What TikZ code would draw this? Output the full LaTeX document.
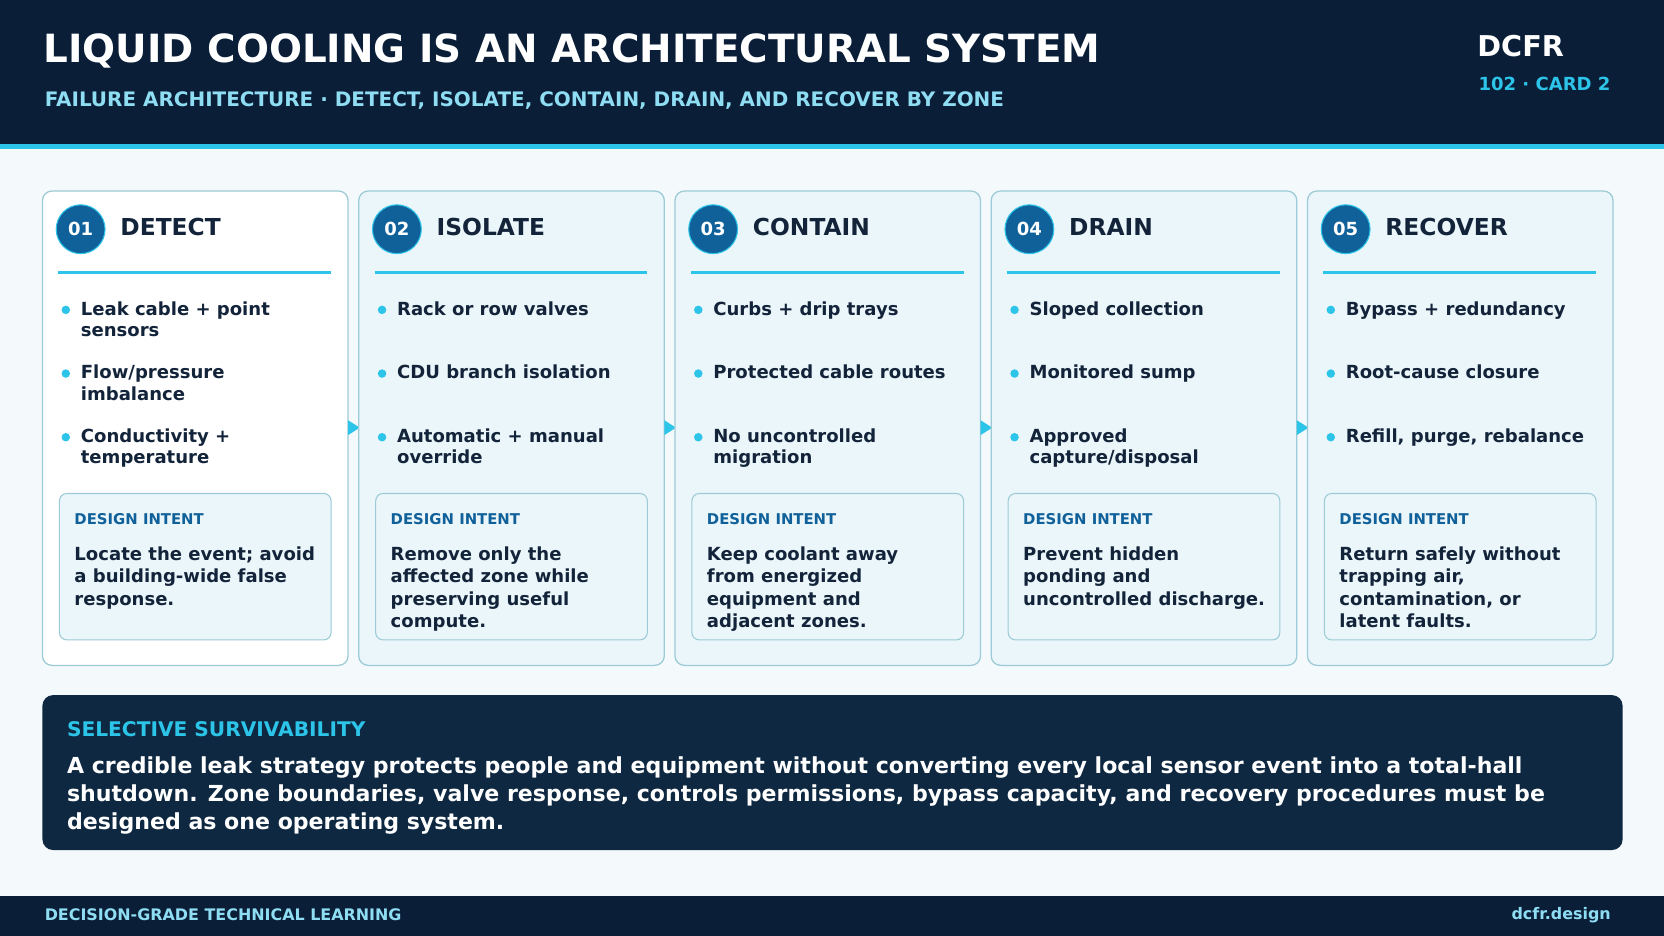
\documentclass[tikz,border=0pt]{standalone}
\usepackage{fontspec}
\setmainfont{DejaVu Sans}
\usetikzlibrary{positioning}
\definecolor{navy}{HTML}{0A1E38}
\definecolor{panel}{HTML}{0E2841}
\definecolor{cyanx}{HTML}{2CC4E8}
\definecolor{subc}{HTML}{8FDDF2}
\definecolor{deep}{HTML}{10609A}
\definecolor{ink}{HTML}{13243A}
\definecolor{edge}{HTML}{9CCAD6}
\definecolor{tint}{HTML}{EAF6FA}
\definecolor{page}{HTML}{F4F9FC}
\tikzset{
  fs/.style={font=\fontsize{#1}{#1}\selectfont\bfseries},
  card/.style={draw=edge,line width=1.2pt,rounded corners=9pt},
  intent/.style={draw=edge,line width=1pt,fill=tint,rounded corners=7pt},
  num/.style={circle,fill=deep,draw=cyanx,line width=1pt,minimum size=46pt,inner sep=0pt,text=white,fs=17},
  ctitle/.style={anchor=west,text=ink,fs=22},
  bul/.style={anchor=north west,text=ink,align=left,inner sep=0pt,
    font=\fontsize{17}{20}\selectfont\bfseries},
  dot/.style={circle,fill=cyanx,inner sep=0pt,minimum size=8pt},
  ibody/.style={anchor=north west,text=ink,align=left,inner sep=0pt,
    font=\fontsize{17}{21}\selectfont\bfseries},
}
\newcommand{\stepcard}[9]{%
  \draw[card,fill=#9] (#1,-180) rectangle ++(288,-447);
  \node[num] (n#2) at (#1+36,-216) {#2};
  \node[ctitle] (t#2) at (#1+70,-214) {#3};
  \draw[cyanx,line width=2.5pt] (#1+15,-257) -- (#1+272,-257);
  \node[dot] at (#1+22,-292) {};
  \node[bul] (a#2) at (#1+36,-284) {#4};
  \node[dot] at (#1+22,-352) {};
  \node[bul] (b#2) at (#1+36,-344) {#5};
  \node[dot] at (#1+22,-412) {};
  \node[bul] (c#2) at (#1+36,-404) {#6};
  \draw[intent] (#1+16,-465) rectangle ++(256,-138);
  \node[anchor=west,text=deep,inner sep=0pt,fs=14] (d#2) at (#1+30,-489) {DESIGN INTENT};
  \node[ibody] (i#2) at (#1+30,-515) {#7};
  \ifx#8y\fill[cyanx] (#1+288,-396) -- (#1+299,-403) -- (#1+288,-410) -- cycle;\fi
}
\begin{document}
\begin{tikzpicture}[x=1pt,y=1pt]
  \useasboundingbox (0,0) rectangle (1568,-882);
  \fill[page] (0,0) rectangle (1568,-882);
  % header
  \fill[navy] (0,0) rectangle (1568,-136);
  \fill[cyanx] (0,-136) rectangle (1568,-140);
  \node[anchor=west,text=white,inner sep=0pt,fs=36.6] (title) at (41,-48) {LIQUID COOLING IS AN ARCHITECTURAL SYSTEM};
  \node[anchor=west,text=subc,inner sep=0pt,fs=18.8] (sub) at (42,-95) {FAILURE ARCHITECTURE · DETECT, ISOLATE, CONTAIN, DRAIN, AND RECOVER BY ZONE};
  \node[anchor=west,text=white,inner sep=0pt,fs=27] (brand) at (1392,-43) {DCFR};
  \node[anchor=west,text=cyanx,inner sep=0pt,fs=17] (cardno) at (1393,-79) {102 · CARD 2};
  % steps
  \stepcard{40}{01}{DETECT}{Leak cable + point\\sensors}{Flow/pressure\\imbalance}{Conductivity +\\temperature}{Locate the event; avoid\\a building-wide false\\response.}{y}{white}
  \stepcard{338}{02}{ISOLATE}{Rack or row valves}{CDU branch isolation}{Automatic + manual\\override}{Remove only the\\affected zone while\\preserving useful\\compute.}{y}{tint}
  \stepcard{636}{03}{CONTAIN}{Curbs + drip trays}{Protected cable routes}{No uncontrolled\\migration}{Keep coolant away\\from energized\\equipment and\\adjacent zones.}{y}{tint}
  \stepcard{934}{04}{DRAIN}{Sloped collection}{Monitored sump}{Approved\\capture/disposal}{Prevent hidden\\ponding and\\uncontrolled discharge.}{y}{tint}
  \stepcard{1232}{05}{RECOVER}{Bypass + redundancy}{Root-cause closure}{Refill, purge, rebalance}{Return safely without\\trapping air,\\contamination, or\\latent faults.}{n}{tint}
  % summary panel
  \fill[panel,rounded corners=10pt] (40,-655) rectangle (1529,-801);
  \node[anchor=west,text=cyanx,inner sep=0pt,fs=19] (stitle) at (63,-687) {SELECTIVE SURVIVABILITY};
  \node[anchor=north west,text=white,inner sep=0pt,align=left,
    font=\fontsize{20.8}{26.5}\selectfont\bfseries] (sbody) at (63,-713)
    {A credible leak strategy protects people and equipment without converting every local sensor event into a total-hall\\shutdown. Zone boundaries, valve response, controls permissions, bypass capacity, and recovery procedures must be\\designed as one operating system.};
  % footer
  \fill[navy] (0,-844) rectangle (1568,-882);
  \node[anchor=west,text=subc,inner sep=0pt,fs=15] (foot) at (42,-862) {DECISION-GRADE TECHNICAL LEARNING};
  \node[anchor=east,text=subc,inner sep=0pt,fs=15] (site) at (1518,-862) {dcfr.design};
\end{tikzpicture}
\end{document}
